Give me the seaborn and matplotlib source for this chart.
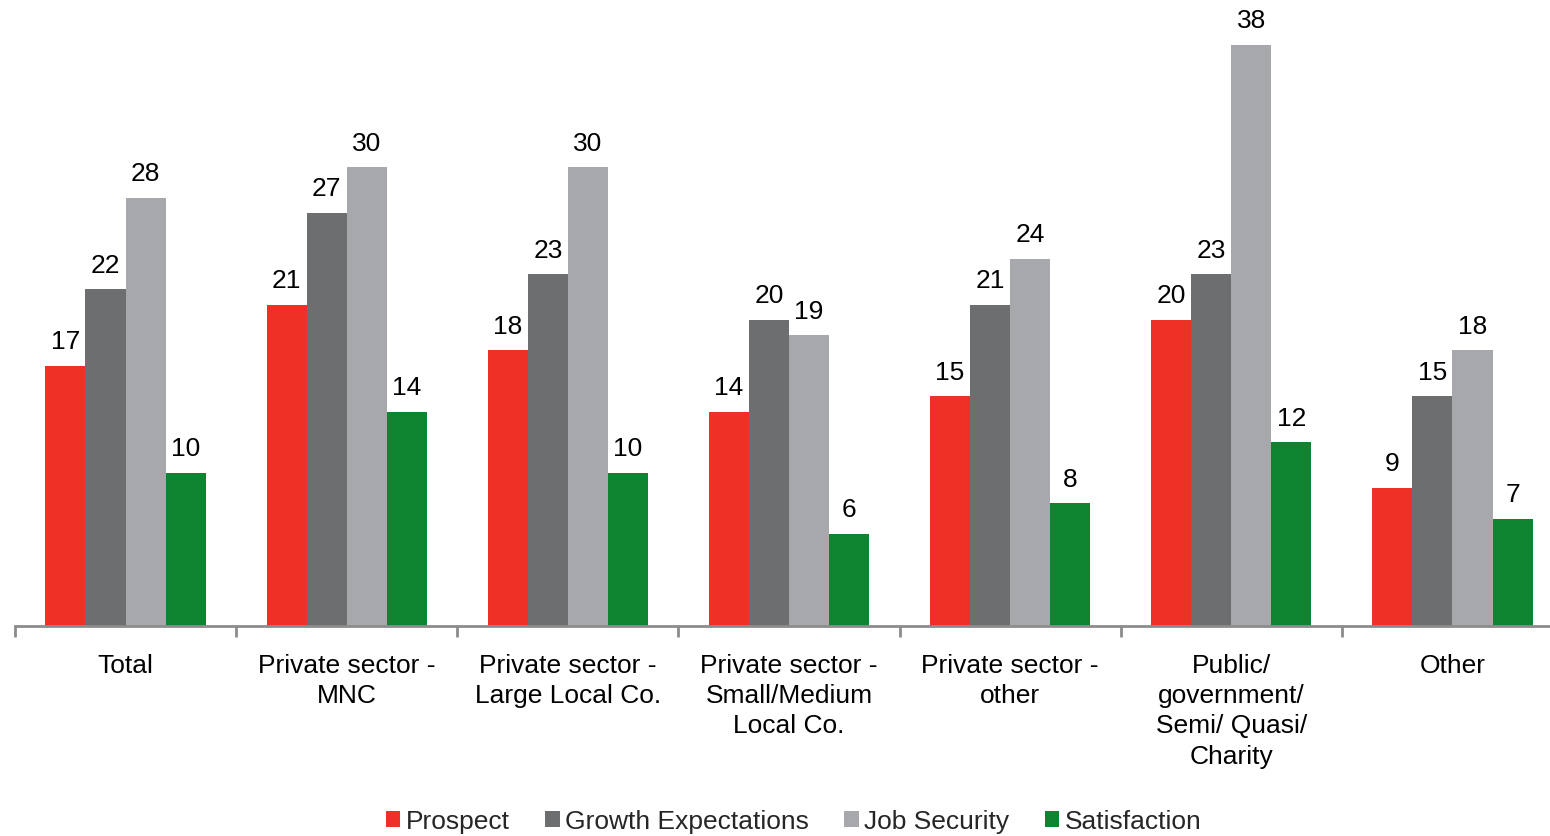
import matplotlib
matplotlib.use("Agg")
import matplotlib.pyplot as plt
import seaborn as sns
import pandas as pd
import numpy as np

categories = [
    "Total",
    "Private sector -\nMNC",
    "Private sector -\nLarge Local Co.",
    "Private sector -\nSmall/Medium\nLocal Co.",
    "Private sector -\nother",
    "Public/\ngovernment/\nSemi/ Quasi/\nCharity",
    "Other",
]
series = ["Prospect", "Growth Expectations", "Job Security", "Satisfaction"]
prospect = [17, 21, 18, 14, 15, 20, 9]
growth = [22, 27, 23, 20, 21, 23, 15]
job_security = [28, 30, 30, 19, 24, 38, 18]
satisfaction = [10, 14, 10, 6, 8, 12, 7]
colors = ["#EE3124", "#6D6E70", "#A7A8AB", "#0E8431"]

rows = []
for name, vals in zip(series, [prospect, growth, job_security, satisfaction]):
    for cat, v in zip(categories, vals):
        rows.append({"category": cat, "series": name, "value": v})
df = pd.DataFrame(rows)

sns.set_theme(style="white")
plt.rcParams["font.family"] = ["Liberation Sans", "DejaVu Sans"]

fig = plt.figure(figsize=(15.5, 8.37), dpi=100)
W, H = 1550, 837
ax = fig.add_axes([15 / W, 1 - 626.5 / H, 1548 / W, 626.5 / H])

sns.barplot(data=df, x="category", y="value", hue="series", order=categories,
            hue_order=series, palette=colors, width=0.725, saturation=1,
            edgecolor="none", linewidth=0, ax=ax, legend=True)

for cont in ax.containers:
    ax.bar_label(cont, fmt="%d", padding=9, fontsize=19, color="black")

ax.set_xlim(-0.5, 6.5)
ax.set_ylim(0, 41)
ax.set_xlabel("")
ax.set_ylabel("")
ax.set_yticks([])
for s in ["top", "right", "left"]:
    ax.spines[s].set_visible(False)
ax.spines["bottom"].set_color("#8C8C8C")
ax.spines["bottom"].set_linewidth(2)

ax.set_xticks(np.arange(len(categories)))
ax.set_xticklabels(categories, fontsize=19, linespacing=1.32)
ax.set_xticks(np.arange(len(categories)) - 0.5, minor=True)
ax.tick_params(axis="x", which="major", length=0, pad=20, colors="black")
ax.tick_params(axis="x", which="minor", length=8, width=2, color="#8C8C8C",
               direction="out", bottom=True)

handles, labels = ax.get_legend_handles_labels()
ax.legend_.remove()
fig.legend(handles, labels, loc="center", bbox_to_anchor=(0.512, 0.018),
           ncol=4, frameon=False, fontsize=19, handlelength=0.55,
           handleheight=0.55, handletextpad=0.2, columnspacing=1.35)

fig.savefig("out.png", dpi=100)
